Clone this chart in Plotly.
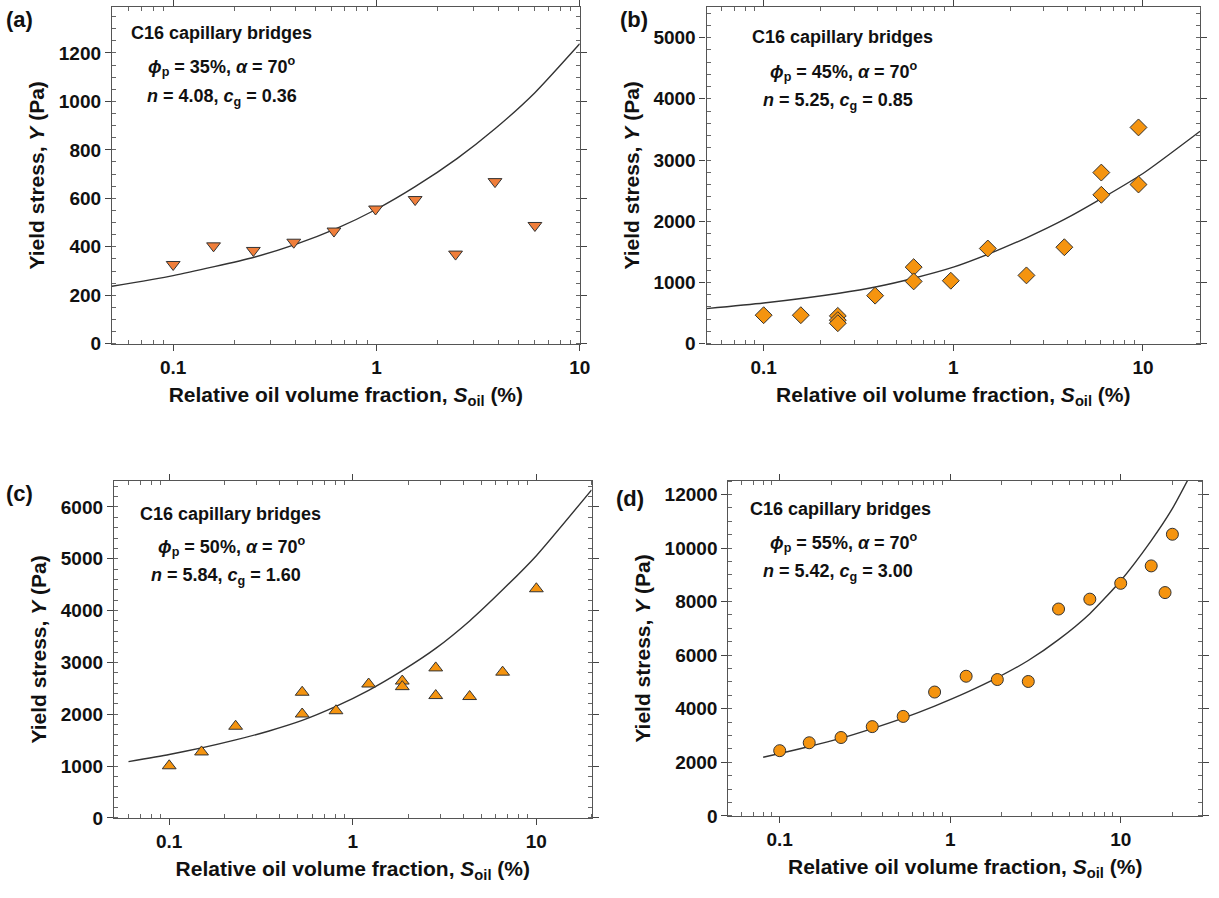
import math
import plotly.graph_objects as go

# ---------------- data ----------------
# (a) phi_p = 35%
s_a = [0.1, 0.158, 0.248, 0.392, 0.618, 0.99, 1.55, 2.45, 3.83, 6.02]
y_a = [327, 404, 385, 419, 465, 556, 595, 370, 669, 488]
fit_s_a = [0.05, 0.1, 0.25, 0.4, 0.63, 1.0, 1.55, 2.5, 3.83, 6.0, 10.0]
fit_y_a = [237, 281, 357, 410, 474, 555, 648, 765, 887, 1035, 1238]

# (b) phi_p = 45%
s_b = [0.1, 0.157, 0.246, 0.246, 0.246, 0.387, 0.618, 0.618, 0.97, 1.52, 2.43, 3.85, 6.03, 6.03, 9.47, 9.47]
y_b = [466, 466, 455, 385, 335, 785, 1251, 1018, 1029, 1555, 1116, 1576, 2795, 2432, 3532, 2600]
fit_s_b = [0.05, 0.1, 0.25, 0.4, 0.618, 1.0, 1.52, 2.43, 3.85, 6.03, 10.0, 20.0]
fit_y_b = [573, 665, 825, 935, 1070, 1250, 1460, 1730, 2030, 2370, 2780, 3470]

# (c) phi_p = 50%
s_c = [0.1, 0.15, 0.23, 0.53, 0.53, 0.81, 1.22, 1.86, 1.86, 2.83, 2.83, 4.33, 6.55, 10.0]
y_c = [1005, 1272, 1768, 2424, 2004, 2067, 2583, 2640, 2532, 2894, 2360, 2341, 2812, 4421]
fit_s_c = [0.06, 0.1, 0.15, 0.23, 0.35, 0.53, 0.81, 1.22, 1.86, 2.83, 4.33, 6.55, 10.0, 20.0]
fit_y_c = [1085, 1223, 1350, 1504, 1677, 1880, 2150, 2460, 2840, 3270, 3800, 4400, 5060, 6330]

# (d) phi_p = 55%
s_d = [0.1, 0.149, 0.229, 0.349, 0.53, 0.81, 1.24, 1.89, 2.87, 4.32, 6.59, 10.0, 15.1, 18.2, 20.1]
y_d = [2434, 2730, 2926, 3332, 3713, 4623, 5213, 5090, 5017, 7722, 8091, 8681, 9332, 8336, 10513]
fit_s_d = [0.08, 0.1, 0.149, 0.229, 0.349, 0.53, 0.81, 1.24, 1.89, 2.87, 4.32, 6.59, 10.0, 15.0, 20.0, 26.0]
fit_y_d = [2190, 2330, 2590, 2900, 3260, 3650, 4100, 4600, 5160, 5800, 6580, 7550, 8780, 10250, 11450, 12800]

panel_labels = ["(a)", "(b)", "(c)", "(d)"]
phi_p = ["35%", "45%", "50%", "55%"]
n_vals = ["4.08", "5.25", "5.84", "5.42"]
cg_vals = ["0.36", "0.85", "1.60", "3.00"]
x_ranges = [(0.05, 10), (0.05, 20), (0.05, 20), (0.05, 30)]
y_ranges = [(0, 1390), (0, 5500), (0, 6500), (0, 12500)]
y_dticks = [200, 1000, 1000, 2000]
y_minor = [50, 200, 200, 500]
x_tickvals = [0.1, 1, 10]
x_ticktext = ["0.1", "1", "10"]
x_minor_vals = [0.06, 0.07, 0.08, 0.09, 0.2, 0.3, 0.4, 0.5, 0.6, 0.7, 0.8, 0.9,
                2, 3, 4, 5, 6, 7, 8, 9, 20]

# ---------------- figure ----------------
W, H = 1219, 898
FONT = "Arial, Liberation Sans, sans-serif"


def px_x(p):
    return p / W


def px_y(p):
    return 1 - p / H


# plot-area boxes in pixels: (left, right, top, bottom)
boxes = [(113, 585, 7, 348), (713, 1211, 7, 348), (115, 597, 487, 828), (735, 1213, 487, 826)]

series = [
    (s_a, y_a, fit_s_a, fit_y_a, "triangle-down", "#F07E3A", 12),
    (s_b, y_b, fit_s_b, fit_y_b, "diamond", "#F5940F", 13),
    (s_c, y_c, fit_s_c, fit_y_c, "triangle-up", "#F5940F", 12),
    (s_d, y_d, fit_s_d, fit_y_d, "circle", "#F5940F", 12),
]

fig = go.Figure()
layout = dict(
    width=W, height=H,
    margin=dict(l=0, r=0, t=0, b=0),
    paper_bgcolor="white", plot_bgcolor="white",
    font=dict(family=FONT, size=19, color="#111", weight="bold"),
    showlegend=False,
)

annotations = []
for i in range(4):
    sx, sy, fx, fy, sym, col, msz = series[i]
    xa = "x" if i == 0 else f"x{i+1}"
    ya = "y" if i == 0 else f"y{i+1}"
    fig.add_trace(go.Scatter(x=fx, y=fy, mode="lines", xaxis=xa, yaxis=ya,
                             line=dict(color="#333", width=1.4, shape="spline", smoothing=0.6),
                             hoverinfo="skip"))
    fig.add_trace(go.Scatter(x=sx, y=sy, mode="markers", xaxis=xa, yaxis=ya,
                             marker=dict(symbol=sym, size=msz, color=col,
                                         line=dict(color="#333", width=1))))
    l, r, t, b = boxes[i]
    xkey = "xaxis" if i == 0 else f"xaxis{i+1}"
    ykey = "yaxis" if i == 0 else f"yaxis{i+1}"
    layout[xkey] = dict(
        type="log", domain=[px_x(l), px_x(r)], anchor=ya,
        range=[math.log10(x_ranges[i][0]), math.log10(x_ranges[i][1])],
        tickvals=x_tickvals, ticktext=x_ticktext,
        ticks="outside", ticklen=6, tickwidth=1, tickcolor="#444",
        showline=True, linecolor="#555", linewidth=1.2, mirror="ticks",
        showgrid=False, zeroline=False,
        minor=dict(tickvals=x_minor_vals, ticks="inside", ticklen=4, tickcolor="#666", showgrid=False),
        tickfont=dict(size=19),
        title=dict(text="Relative oil volume fraction, <i>S</i><sub>oil</sub> (%)",
                   font=dict(size=21), standoff=10),
    )
    layout[ykey] = dict(
        domain=[px_y(b), px_y(t)], anchor=xa,
        range=list(y_ranges[i]), dtick=y_dticks[i], tick0=0, tickformat="d",
        ticks="outside", ticklen=6, tickwidth=1, tickcolor="#444",
        showline=True, linecolor="#555", linewidth=1.2, mirror="ticks",
        showgrid=False, zeroline=False,
        minor=dict(dtick=y_minor[i], ticks="inside", ticklen=4, tickcolor="#666", showgrid=False),
        tickfont=dict(size=19),
        title=dict(text="Yield stress, <i>Y</i> (Pa)", font=dict(size=21), standoff=8),
    )

# text annotations (positions in pixels)
label_pos = [(4, 20), (624, 20), (4, 500), (620, 505)]
text_pos = [  # (x line1, y1, x line2, y2, x line3, y3)
    (130, 33, 147, 67, 146, 99),
    (757, 37, 775, 72, 768, 103),
    (139, 520, 157, 553, 150, 584),
    (755, 515, 775, 549, 768, 580),
]
for i in range(4):
    lx, ly = label_pos[i]
    annotations.append(dict(text=panel_labels[i], x=px_x(lx), y=px_y(ly), xref="paper", yref="paper",
                            xanchor="left", yanchor="middle", showarrow=False,
                            font=dict(size=22, family=FONT, weight="bold")))
    x1, y1, x2, y2, x3, y3 = text_pos[i]
    annotations.append(dict(text="C16 capillary bridges", x=px_x(x1), y=px_y(y1), xref="paper", yref="paper",
                            xanchor="left", yanchor="middle", showarrow=False,
                            font=dict(size=18, family=FONT, weight="bold")))
    annotations.append(dict(text=f"<i>ϕ</i><sub>p</sub> = {phi_p[i]}, <i>α</i> = 70<sup>o</sup>",
                            x=px_x(x2), y=px_y(y2), xref="paper", yref="paper",
                            xanchor="left", yanchor="middle", showarrow=False,
                            font=dict(size=18, family=FONT, weight="bold")))
    annotations.append(dict(text=f"<i>n</i> = {n_vals[i]}, <i>c</i><sub>g</sub> = {cg_vals[i]}",
                            x=px_x(x3), y=px_y(y3), xref="paper", yref="paper",
                            xanchor="left", yanchor="middle", showarrow=False,
                            font=dict(size=18, family=FONT, weight="bold")))

layout["annotations"] = annotations
fig.update_layout(**layout)
fig.write_html("out.html")
